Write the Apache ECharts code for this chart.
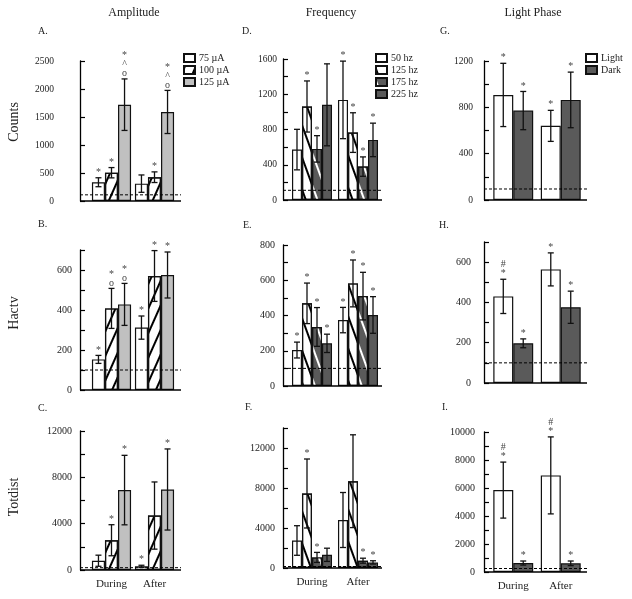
<!DOCTYPE html>
<html><head><meta charset="utf-8">
<script src="https://cdn.jsdelivr.net/npm/echarts/dist/echarts.min.js"></script>
<style>html,body{margin:0;padding:0;background:#fff}#c{width:632px;height:599px}</style>
</head><body><div id="c"></div>
<script>
// ---------- DATA ----------
const periods = ['During', 'After'];
const ampNames = ['75 µA', '100 µA', '125 µA'];
const freqNames = ['50 hz', '125 hz', '175 hz', '225 hz'];
const phaseNames = ['Light', 'Dark'];

// A. Counts by amplitude (each row = one series, [During, After])
const aMean = [[335, 310], [505, 425], [1720, 1590]];
const aErr  = [[80, 155], [92, 95], [460, 385]];
const aMarks = [['*', ''], ['*', '*'], ['*\n^\no', '*\n^\no']];
const aBase = 110;
// B. Hactv by amplitude
const bMean = [[153, 312], [408, 570], [428, 575]];
const bErr  = [[20, 58], [100, 127], [105, 115]];
const bMarks = [['*', '*'], ['*\no', '*'], ['*\no', '*']];
const bBase = 100;
// C. Totdist by amplitude
const cMean = [[800, 320], [2570, 4700], [6900, 6950]];
const cErr  = [[480, 90], [1340, 2900], [3000, 3500]];
const cMarks = [['', '*'], ['*', ''], ['*', '*']];
const cBase = 200;
// D. Counts by frequency
const dMean = [[572, 1136], [1061, 765], [580, 379], [1080, 682]];
const dErr  = [[230, 440], [290, 225], [150, 110], [465, 190]];
const dMarks = [['', '*'], ['*', '*'], ['*', '*'], ['', '*']];
const dBase = 110;
// E. Hactv by frequency
const eMean = [[204, 374], [469, 582], [335, 510], [242, 403]];
const eErr  = [[45, 72], [115, 133], [110, 135], [52, 104]];
const eMarks = [['*', '*'], ['*', '*'], ['*', '*'], ['*', '*']];
const eBase = 100;
// F. Totdist by frequency
const fMean = [[2750, 4800], [7450, 8680], [1060, 730], [1320, 560]];
const fErr  = [[1480, 2750], [3450, 4640], [500, 250], [660, 165]];
const fMarks = [['', ''], ['*', ''], ['*', '*'], ['', '*']];
const fBase = 150;
// G. Counts by light phase
const gMean = [[907, 640], [772, 864]];
const gErr  = [[273, 134], [165, 240]];
const gMarks = [['*', '*'], ['*', '*']];
const gBase = 95;
// H. Hactv by light phase
const hMean = [[430, 564], [197, 376]];
const hErr  = [[85, 82], [22, 80]];
const hMarks = [['#\n*', '*'], ['*', '*']];
const hBase = 100;
// I. Totdist by light phase
const iMean = [[5850, 6900], [640, 620]];
const iErr  = [[2000, 2750], [145, 165]];
const iMarks = [['#\n*', '#\n*'], ['*', '*']];
const iBase = 250;

// y axis scales: [max, tick step, label step]
const aAxis = [2500, 500, 500];
const bAxis = [700, 100, 200];
const cAxis = [12000, 2000, 4000];
const dAxis = [1600, 200, 400];
const eAxis = [800, 100, 200];
const fAxis = [14000, 2000, 4000];
const gAxis = [1200, 200, 400];
const hAxis = [700, 100, 200];
const iAxis = [10000, 1000, 2000];

const colTitles = ['Amplitude', 'Frequency', 'Light Phase'];
const rowTitles = ['Counts', 'Hactv', 'Totdist'];
const letters = ['A.', 'B.', 'C.', 'D.', 'E.', 'F.', 'G.', 'H.', 'I.'];

// ---------- STYLES / LAYOUT ----------
const FONT = '"Liberation Serif", "Times New Roman", serif';
const TXT = '#222';
const DARK = '#5a5a5a';
const slash = {symbol: 'rect', symbolSize: 1, color: '#000', dashArrayX: [1, 0], dashArrayY: [1.1, 8], rotation: -Math.PI * 66 / 180};
const bslash = (c) => ({symbol: 'rect', symbolSize: 1, color: c, dashArrayX: [1, 0], dashArrayY: [1.1, 9], rotation: Math.PI * 70 / 180});
const ampStyles = [{color: '#fff'}, {color: '#fff', decal: slash}, {color: '#c0c0c0'}];
const freqStyles = [{color: '#fff'}, {color: '#fff', decal: bslash('#000')}, {color: DARK, decal: bslash('#fff')}, {color: DARK}];
const phaseStyles = [{color: '#fff'}, {color: DARK}];

const cols = [
  {axisX: 80, left: 90, width: 86, gap: 0.09, ext: 5, names: ampNames, styles: ampStyles},
  {axisX: 283, left: 289, width: 92, gap: 0.13, ext: 1, names: freqNames, styles: freqStyles},
  {axisX: 484, left: 489.5, width: 95, gap: 0.16, ext: 2.5, names: phaseNames, styles: phaseStyles}
];
const panels = [
  {col: 0, row: 0, top: 61, height: 140, margin: 26, fs: 9.5, mean: aMean, err: aErr, marks: aMarks, base: aBase, axis: aAxis},
  {col: 0, row: 1, top: 250, height: 140, margin: 8, fs: 10, mean: bMean, err: bErr, marks: bMarks, base: bBase, axis: bAxis},
  {col: 0, row: 2, top: 431, height: 139, margin: 8, fs: 10, mean: cMean, err: cErr, marks: cMarks, base: cBase, axis: cAxis},
  {col: 1, row: 0, top: 59, height: 141, margin: 6, fs: 9.5, mean: dMean, err: dErr, marks: dMarks, base: dBase, axis: dAxis},
  {col: 1, row: 1, top: 245, height: 141, margin: 8, fs: 10, mean: eMean, err: eErr, marks: eMarks, base: eBase, axis: eAxis},
  {col: 1, row: 2, top: 428, height: 140, margin: 8, fs: 10, mean: fMean, err: fErr, marks: fMarks, base: fBase, axis: fAxis},
  {col: 2, row: 0, top: 61, height: 139, margin: 11, fs: 9.5, mean: gMean, err: gErr, marks: gMarks, base: gBase, axis: gAxis},
  {col: 2, row: 1, top: 242, height: 141, margin: 13, fs: 10, mean: hMean, err: hErr, marks: hMarks, base: hBase, axis: hAxis},
  {col: 2, row: 2, top: 432, height: 140, margin: 9, fs: 10, mean: iMean, err: iErr, marks: iMarks, base: iBase, axis: iAxis}
];
const letterPos = [[38, 31], [38, 224], [38, 408], [242, 31], [243, 225], [245, 407], [440, 31], [439, 225], [442, 407]];
const titlePos = [[134, 13], [331, 13], [533, 13]];
const rowTitlePos = [[14, 122], [14, 313], [14, 497]];

const grids = [], xAxes = [], yAxes = [], series = [];
panels.forEach((p, i) => {
  const c = cols[p.col];
  const off = c.left - c.axisX;
  grids.push({left: c.left, top: p.top, width: c.width, height: p.height});
  xAxes.push({
    type: 'category', gridIndex: i, data: periods,
    axisLine: {show: false}, axisTick: {show: false}, splitLine: {show: false},
    axisLabel: {show: p.row === 2, fontFamily: FONT, fontSize: 11, color: TXT, margin: 9}
  });
  const [max, step, lstep] = p.axis;
  yAxes.push({
    type: 'value', gridIndex: i, min: 0, max: max, interval: step, offset: off,
    axisLine: {show: true, lineStyle: {color: '#000', width: 1.3}},
    axisTick: {show: true, inside: true, length: 5, lineStyle: {color: '#000', width: 1.2}},
    splitLine: {show: false},
    axisLabel: {margin: p.margin, fontFamily: FONT, fontSize: p.fs, color: TXT,
      formatter: v => (v % lstep === 0 ? String(v) : '')}
  });
  const n = p.mean.length;
  p.mean.forEach((vals, s) => {
    series.push({
      type: 'bar', name: c.names[s], xAxisIndex: i, yAxisIndex: i, data: vals,
      barGap: '0%', barCategoryGap: (c.gap * 100) + '%',
      itemStyle: Object.assign({borderColor: '#111', borderWidth: 1.2}, c.styles[s]),
      emphasis: {disabled: true}, silent: true, z: 2
    });
  });
  // error bars + significance marks
  const errData = [];
  p.mean.forEach((vals, s) => vals.forEach((m, k) => errData.push([k, m, p.err[s][k], s])));
  series.push({
    type: 'custom', xAxisIndex: i, yAxisIndex: i, data: errData, clip: false, z: 5, silent: true,
    encode: {x: 0, y: 1},
    renderItem: (params, api) => {
      const k = api.value(0), m = api.value(1), e = api.value(2), s = api.value(3);
      const band = api.size([1, 0])[0];
      const gw = band * (1 - c.gap);
      const bw = gw / n;
      const cx = api.coord([k, m])[0] - gw / 2 + bw * (s + 0.5);
      const yT = api.coord([k, m + e])[1];
      const yB = api.coord([k, Math.max(0, m - e)])[1];
      const cap = 3;
      const ls = {stroke: '#111', lineWidth: 1.3};
      const ch = [
        {type: 'line', shape: {x1: cx, y1: yT, x2: cx, y2: yB}, style: ls},
        {type: 'line', shape: {x1: cx - cap, y1: yT, x2: cx + cap, y2: yT}, style: ls},
        {type: 'line', shape: {x1: cx - cap, y1: yB, x2: cx + cap, y2: yB}, style: ls}
      ];
      const mk = p.marks[s][k];
      if (mk) ch.push({type: 'text', style: {text: mk, x: cx, y: yT - 1, align: 'center', verticalAlign: 'bottom',
        font: '10px ' + FONT, fill: '#444', lineHeight: 9}});
      return {type: 'group', children: ch};
    }
  });
  // x axis line and dashed control baseline
  series.push({
    type: 'custom', xAxisIndex: i, yAxisIndex: i, data: [[0, p.base]], clip: false, z: 4, silent: true,
    encode: {x: 0, y: 1},
    renderItem: (params, api) => {
      const cs = params.coordSys;
      const x0 = cs.x - off, x1 = cs.x + cs.width + c.ext;
      const y0 = api.coord([0, 0])[1];
      const yb = api.coord([0, api.value(1)])[1];
      return {type: 'group', children: [
        {type: 'line', shape: {x1: x0, y1: y0, x2: x1, y2: y0}, style: {stroke: '#000', lineWidth: 1.3}},
        {type: 'line', shape: {x1: x0, y1: yb, x2: x1, y2: yb}, style: {stroke: '#000', lineWidth: 1, lineDash: [3, 2]}}
      ]};
    }
  });
});

const graphics = [];
colTitles.forEach((t, k) => graphics.push({type: 'text', x: titlePos[k][0], y: titlePos[k][1],
  style: {text: t, font: '12px ' + FONT, fill: TXT, align: 'center', verticalAlign: 'middle'}}));
rowTitles.forEach((t, k) => graphics.push({type: 'text', x: rowTitlePos[k][0], y: rowTitlePos[k][1], rotation: Math.PI / 2,
  style: {text: t, font: '14px ' + FONT, fill: TXT, align: 'center', verticalAlign: 'middle'}}));
letters.forEach((t, k) => graphics.push({type: 'text', x: letterPos[k][0], y: letterPos[k][1],
  style: {text: t, font: '10px ' + FONT, fill: TXT, align: 'left', verticalAlign: 'middle'}}));

const legendBase = {orient: 'vertical', top: 53, itemWidth: 11, itemHeight: 8, itemGap: 2, icon: 'rect',
  selectedMode: false, padding: 0, textStyle: {fontFamily: FONT, fontSize: 10, color: TXT, padding: [0, 0, 0, -1]}};
const legends = [
  Object.assign({}, legendBase, {data: ampNames, left: 183}),
  Object.assign({}, legendBase, {data: freqNames, left: 375}),
  Object.assign({}, legendBase, {data: phaseNames, left: 585})
];

const chart = echarts.init(document.getElementById('c'), null, {renderer: 'canvas'});
chart.setOption({
  animation: false,
  backgroundColor: '#fff',
  grid: grids, xAxis: xAxes, yAxis: yAxes, series: series,
  legend: legends, graphic: graphics
});
</script></body></html>
